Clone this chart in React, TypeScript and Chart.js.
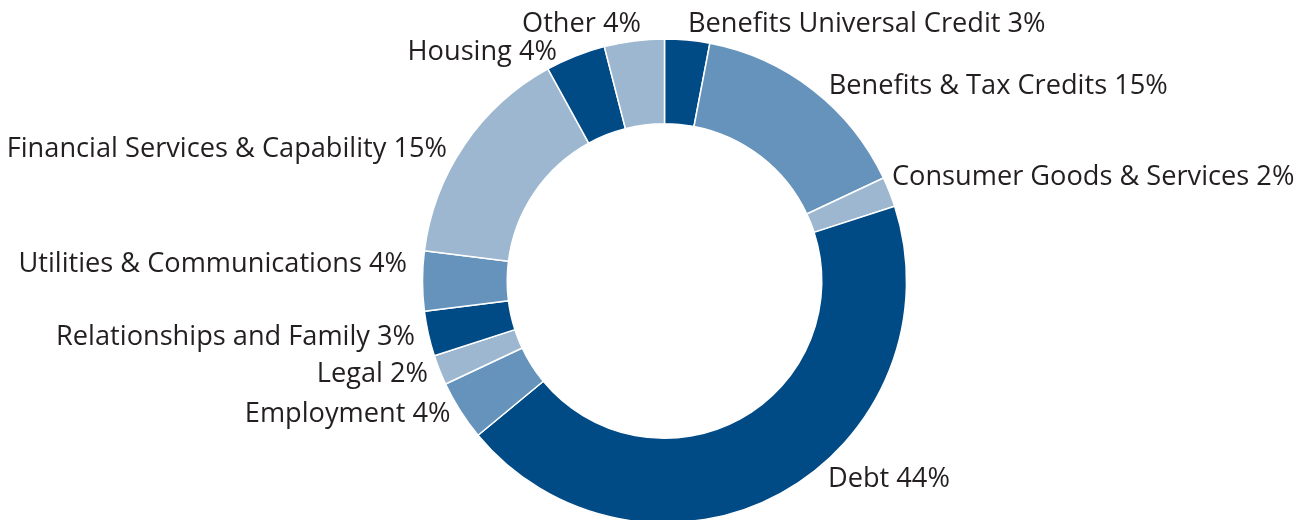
import React, { useEffect, useRef } from "react";
import { Chart, registerables } from "chart.js";

Chart.register(...registerables);

const categories = [
  "Benefits Universal Credit",
  "Benefits & Tax Credits",
  "Consumer Goods & Services",
  "Debt",
  "Employment",
  "Legal",
  "Relationships and Family",
  "Utilities & Communications",
  "Financial Services & Capability",
  "Housing",
  "Other",
];
const shares = [3, 15, 2, 44, 4, 2, 3, 4, 15, 4, 4];

const DARK = "#004a86";
const MID = "#6593bb";
const LIGHT = "#9cb7cf";
const sliceColors = [DARK, MID, LIGHT, DARK, MID, LIGHT, DARK, MID, LIGHT, DARK, LIGHT];

// label nudges (dx, dy) relative to the point just outside each slice's mid-angle
const labelNudges: [number, number][] = [
  [0, 0],
  [11, 10.5],
  [-5, -4],
  [43, -13],
  [-3, 7],
  [-4, 9],
  [-5.5, 9.5],
  [-7.5, -9],
  [-10.7, 16.5],
  [-15.5, 11.5],
  [7.8, -1],
];

const labelPlugin = {
  id: "outsideLabels",
  afterDatasetsDraw(chart: any) {
    const ctx = chart.ctx;
    const meta = chart.getDatasetMeta(0);
    ctx.save();
    ctx.font = "27.2px 'Open Sans'";
    ctx.fillStyle = "#231f20";
    ctx.textBaseline = "alphabetic";
    meta.data.forEach((arc: any, i: number) => {
      const { x, y, startAngle, endAngle, outerRadius } = arc.getProps(
        ["x", "y", "startAngle", "endAngle", "outerRadius"],
        true
      );
      const mid = (startAngle + endAngle) / 2;
      const r = outerRadius + 8;
      const px = x + Math.cos(mid) * r;
      const py = y + Math.sin(mid) * r;
      const rightSide = Math.cos(mid) >= 0;
      const isOther = i === shares.length - 1;
      ctx.textAlign = rightSide && !isOther ? "left" : "right";
      const [dx, dy] = labelNudges[i];
      ctx.fillText(`${categories[i]} ${shares[i]}%`, px + dx, py + dy);
    });
    ctx.restore();
  },
};

export default function App() {
  const ref = useRef<HTMLCanvasElement>(null);
  useEffect(() => {
    if (!ref.current) return;
    const chart = new Chart(ref.current, {
      type: "doughnut",
      data: {
        labels: categories,
        datasets: [
          {
            data: shares,
            backgroundColor: sliceColors,
            borderColor: "#ffffff",
            borderWidth: 1.5,
            hoverBorderWidth: 1.5,
            hoverOffset: 0,
          },
        ],
      },
      options: {
        animation: false,
        responsive: true,
        maintainAspectRatio: false,
        cutout: "65%",
        layout: { padding: { top: 38.25, bottom: 36.25, left: 421.75, right: 401.75 } },
        plugins: { legend: { display: false }, tooltip: { enabled: false } },
        events: [],
      },
      plugins: [labelPlugin],
    });
    return () => chart.destroy();
  }, []);
  return (
    <div style={{ position: "absolute", left: 0, top: 0, width: 1309, height: 520, overflow: "hidden", background: "#fff" }}>
      <div style={{ position: "relative", width: 1309, height: 560 }}>
        <canvas ref={ref} />
      </div>
    </div>
  );
}
